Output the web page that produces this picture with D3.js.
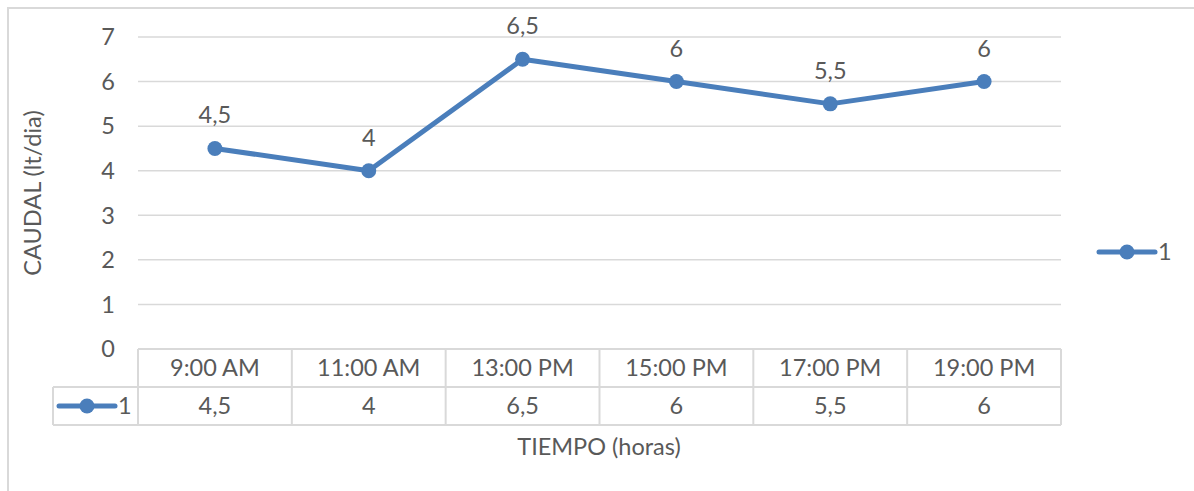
<!DOCTYPE html>
<html>
<head>
<meta charset="utf-8">
<script src="https://cdn.jsdelivr.net/npm/d3@7"></script>
<style>
  html, body { margin: 0; padding: 0; background: #fff; }
  svg { display: block; }
  text { font-family: Lato, "Open Sans", sans-serif; fill: #595959; }
</style>
</head>
<body>
<svg id="chart" width="1194" height="491"></svg>
<script>
// Flow measurements through the day
const categories = ["9:00 AM", "11:00 AM", "13:00 PM", "15:00 PM", "17:00 PM", "19:00 PM"];
const seriesName = "1";
const values = [4.5, 4, 6.5, 6, 5.5, 6];
const yTicks = [0, 1, 2, 3, 4, 5, 6, 7];

const fmt = v => String(v).replace(".", ",");
const color = "#4A7EBB";
const gridColor = "#D9D9D9";
const fontSize = 23.5;

const svg = d3.select("#chart");

// outer chart frame
svg.append("rect")
  .attr("x", 8).attr("y", 8)
  .attr("width", 1300).attr("height", 600)
  .attr("fill", "none").attr("stroke", gridColor).attr("stroke-width", 2);

const plot = { left: 138, right: 1061, top: 37, bottom: 349 };

const x = d3.scaleBand().domain(categories).range([plot.left, plot.right]).padding(0);
const y = d3.scaleLinear().domain([0, 7]).range([plot.bottom, plot.top]);

// horizontal gridlines
svg.append("g").selectAll("line").data(yTicks.filter(t => t > 0)).join("line")
  .attr("x1", plot.left).attr("x2", plot.right)
  .attr("y1", d => y(d)).attr("y2", d => y(d))
  .attr("stroke", gridColor).attr("stroke-width", 1.5);

// y tick labels
svg.append("g").selectAll("text").data(yTicks).join("text")
  .attr("x", 115).attr("y", d => y(d))
  .attr("dy", "0.35em")
  .attr("text-anchor", "end")
  .attr("font-size", fontSize)
  .text(d => d);

// y axis title
svg.append("text")
  .attr("transform", `translate(33,${(plot.top + plot.bottom) / 2}) rotate(-90)`)
  .attr("text-anchor", "middle").attr("dy", "0.35em")
  .attr("font-size", fontSize)
  .text("CAUDAL (lt/dia)");

// data table under the plot
const rowH = [349, 387, 425];
const tbl = svg.append("g");
const tableLines = [];
// horizontal rules
tableLines.push([plot.left, rowH[0], plot.right, rowH[0]]);
tableLines.push([53, rowH[1], plot.right, rowH[1]]);
tableLines.push([53, rowH[2], plot.right, rowH[2]]);
// vertical rules
tableLines.push([53, rowH[1], 53, rowH[2]]);
categories.forEach(c => tableLines.push([x(c), rowH[0], x(c), rowH[2]]));
tableLines.push([plot.right, rowH[0], plot.right, rowH[2]]);
tbl.selectAll("line").data(tableLines).join("line")
  .attr("x1", d => d[0]).attr("y1", d => d[1])
  .attr("x2", d => d[2]).attr("y2", d => d[3])
  .attr("stroke", gridColor).attr("stroke-width", 2);

tbl.append("g").selectAll("text").data(categories).join("text")
  .attr("x", d => x(d) + x.bandwidth() / 2)
  .attr("y", (rowH[0] + rowH[1]) / 2)
  .attr("dy", "0.35em").attr("text-anchor", "middle")
  .attr("font-size", fontSize)
  .text(d => d);

tbl.append("g").selectAll("text").data(values).join("text")
  .attr("x", (d, i) => x(categories[i]) + x.bandwidth() / 2)
  .attr("y", (rowH[1] + rowH[2]) / 2)
  .attr("dy", "0.35em").attr("text-anchor", "middle")
  .attr("font-size", fontSize)
  .text(d => fmt(d));

// legend key helper
function legendKey(g, cx, cy) {
  g.append("line")
    .attr("x1", cx - 28).attr("x2", cx + 28)
    .attr("y1", cy).attr("y2", cy)
    .attr("stroke", color).attr("stroke-width", 5)
    .attr("stroke-linecap", "round");
  g.append("circle").attr("cx", cx).attr("cy", cy).attr("r", 7.5).attr("fill", color);
  g.append("text").attr("x", cx + 31).attr("y", cy)
    .attr("dy", "0.35em").attr("font-size", fontSize).text(seriesName);
}
legendKey(tbl.append("g"), 87, (rowH[1] + rowH[2]) / 2);
legendKey(svg.append("g"), 1127, 252);

// series line
const pts = values.map((v, i) => [x(categories[i]) + x.bandwidth() / 2, y(v)]);
svg.append("path")
  .attr("d", d3.line()(pts))
  .attr("fill", "none").attr("stroke", color)
  .attr("stroke-width", 5).attr("stroke-linejoin", "round").attr("stroke-linecap", "round");

svg.append("g").selectAll("circle").data(pts).join("circle")
  .attr("cx", d => d[0]).attr("cy", d => d[1]).attr("r", 7.5).attr("fill", color);

// value labels above points
svg.append("g").selectAll("text").data(values).join("text")
  .attr("x", (d, i) => pts[i][0]).attr("y", (d, i) => pts[i][1] - 25)
  .attr("text-anchor", "middle").attr("font-size", fontSize)
  .text(d => fmt(d));

// x axis title
svg.append("text")
  .attr("x", 599).attr("y", 455)
  .attr("text-anchor", "middle").attr("font-size", fontSize)
  .text("TIEMPO (horas)");
</script>
</body>
</html>
